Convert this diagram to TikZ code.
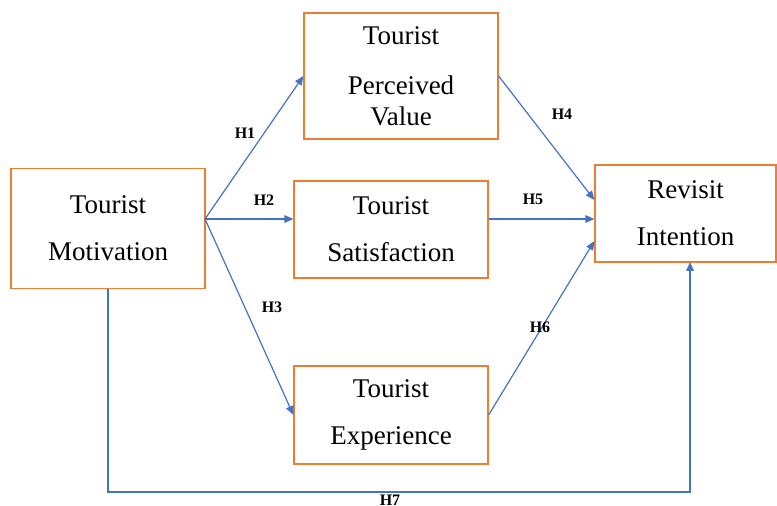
\documentclass[tikz,border=0pt]{standalone}
\usepackage{fontspec}
\setmainfont{Liberation Serif}
\usepackage{tikz}
\usetikzlibrary{positioning,%
  arrows.meta,%
  calc%
}
\definecolor{boxorange}{HTML}{ED7D31}
\definecolor{lineblue}{HTML}{4472C4}

\begin{document}
\begin{tikzpicture}
                    [x=0.5pt, y=-0.5pt,
                    var/.style={rectangle,
                        draw=boxorange, fill=white,
                        line width=0.6pt,
                        minimum width=97pt,
                        inner sep=0pt, align=center,
                        font=\fontsize{13.5}{23.5}\selectfont},
                    hyp/.style={inner sep=0pt,
                        font=\fontsize{8}{9}\selectfont\bfseries},
                    link/.style={color=lineblue, line width=0.6pt,
                        -{Triangle[length=4.5pt,width=3.8pt]}}]

                    \useasboundingbox (0,0) rectangle (777,506);

                    \node[var, minimum height=60pt] (motiv) at (108,228.5)
                        {Tourist\\Motivation};
                    \node[var, minimum height=63pt] (value) at (401,76)
                        {Tourist\\[1.5pt]Perceived\\[-8pt]Value};
                    \node[var, minimum height=48.5pt] (satis) at (391,229.5)
                        {Tourist\\Satisfaction};
                    \node[var, minimum height=49pt] (exper) at (391,415)
                        {Tourist\\Experience};
                    \node[var, minimum width=90.5pt, minimum height=48.5pt]
                        (revisit) at (685.5,213.5) {Revisit\\Intention};

                    % where the arrows leave and arrive
                    \coordinate (hub) at (205,219);
                    \coordinate (in4) at ($(revisit.west)+(0,-13.5)$);
                    \coordinate (in5) at ($(revisit.west)+(0,5.5)$);
                    \coordinate (in6) at ($(revisit.west)+(0,27.5)$);
                    \coordinate (low) at (108,492);
                    \coordinate (up7) at (690,262);

                    \path
                        (hub)   edge[link] (value.west)
                        (hub)   edge[link] (satis.west |- hub)
                        (hub)   edge[link] (exper.west)
                        (value.east) edge[link] (in4)
                        (satis.east |- in5) edge[link] (in5)
                        (exper.east) edge[link] (in6);
                    \draw[link] (motiv.south) -- (low) -| (up7);

                    \node[hyp] (h1) at (245,133) {H1};
                    \node[hyp] (h2) at (264,200) {H2};
                    \node[hyp] (h3) at (272,307) {H3};
                    \node[hyp] (h4) at (562,114) {H4};
                    \node[hyp] (h5) at (533,199) {H5};
                    \node[hyp] (h6) at (540,327) {H6};
                    \node[hyp] (h7) at (390,500) {H7};
                \end{tikzpicture}
\end{document}
